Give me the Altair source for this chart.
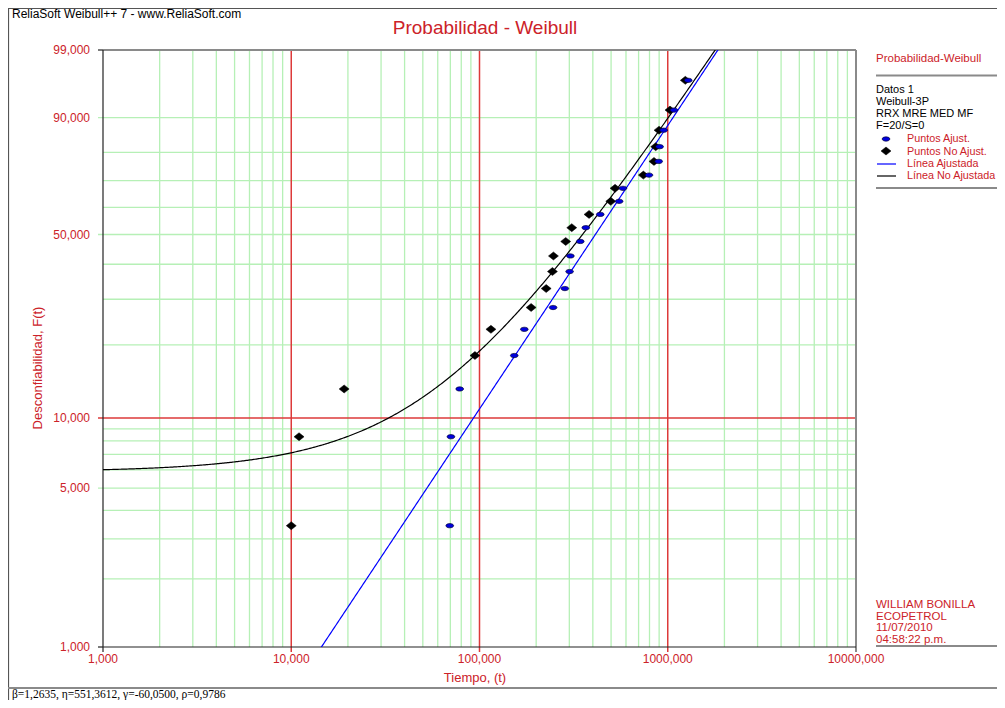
import math
import numpy as np
import pandas as pd
import altair as alt

# ---------------- data ----------------
F_PCT = [3.43, 8.33, 13.24, 18.14, 23.04, 27.94, 32.84, 37.75, 42.65, 47.55,
         52.45, 57.35, 62.25, 67.16, 72.06, 76.96, 81.86, 86.76, 91.67, 96.57]
T_RAW = [10.0, 11.0, 19.1, 94.6, 115.0, 188.0, 226.0, 244.0, 247.0, 287.0,
         309.0, 382.0, 498.0, 525.0, 742.0, 845.0, 863.0, 899.0, 1028.0, 1240.0]
T_ADJ = [69.5, 70.5, 78.5, 153.0, 173.0, 246.0, 284.0, 301.0, 304.0, 343.0,
         367.0, 438.0, 552.0, 578.0, 795.0, 895.0, 905.0, 951.0, 1079.0, 1285.0]
BETA, ETA, GAMMA = 1.2635, 551.3612, -60.05

X_LABEL_VALUES = [1, 10, 100, 1000, 10000]
Y_LABEL_PCTS = [1, 5, 10, 50, 90, 99]
X_RED = [10, 100, 1000]
X_GREEN = [m * 10 ** k for k in range(4) for m in range(2, 10)]
Y_GREEN = [2, 3, 4, 6, 7, 8, 9, 20, 30, 40, 60, 70, 80]
Y_GREEN_TICKED = [5, 50, 90]
Y_RED = [10]
Y_BLACK_TICKS = [1, 99]

HEADER = "ReliaSoft Weibull++ 7 - www.ReliaSoft.com"
TITLE = "Probabilidad - Weibull"
X_TITLE = "Tiempo, (t)"
Y_TITLE = "Desconfiabilidad, F(t)"
LEGEND_TITLE = "Probabilidad-Weibull"
LEGEND_INFO = ["Datos 1", "Weibull-3P", "RRX MRE MED MF", "F=20/S=0"]
LEGEND_ITEMS = ["Puntos Ajust.", "Puntos No Ajust.", "Línea Ajustada", "Línea No Ajustada"]
SIGN = ["WILLIAM BONILLA", "ECOPETROL", "11/07/2010", "04:58:22 p.m."]
PARAMS_TEXT = "β=1,2635, η=551,3612, γ=-60,0500, ρ=0,9786"

# ---------------- styling ----------------
RED = "#cc2229"
GRID_RED = "#dd3a3a"
GREEN = "#b6f0b6"
GRAY = "#8a8a8a"
SANS = "Liberation Sans"
SERIF = "Liberation Serif"
DIAMOND = "M-1,0L0,-0.8L1,0L0,0.8Z"
ELLIPSE = "M-1,0A1,0.55,0,1,0,1,0A1,0.55,0,1,0,-1,0Z"


def wb(p):
    return math.log(-math.log(1 - p / 100.0))


W_LO, W_HI = wb(1), wb(99)
W, H = 753, 597
OX, OY = 103, 50
PAGE_R, PAGE_B = 997, 700          # right / bottom edge of the drawing on the page
XS = alt.Scale(type="log", domain=[1, 10000], nice=False)
YS = alt.Scale(domain=[W_LO, W_HI], nice=False, zero=False)
WEXPR = "log(-log(1 - datum.p / 100))"
ONE = pd.DataFrame({"k": [0]})


def txt(s, X, Y, size=12, color=RED, align="left", font=SANS, angle=0):
    return alt.Chart(ONE).mark_text(
        text=s, fontSize=size, color=color, align=align, baseline="middle",
        font=font, angle=angle
    ).encode(x=alt.value(X - OX), y=alt.value(Y - OY))


def hline(X1, X2, Y, color=GRAY, width=2.0):
    return alt.Chart(ONE).mark_rule(color=color, strokeWidth=width).encode(
        x=alt.value(X1 - OX), x2=alt.value(X2 - OX), y=alt.value(Y - OY))


def vline(X, Y1, Y2, color=GRAY, width=2.0):
    return alt.Chart(ONE).mark_rule(color=color, strokeWidth=width).encode(
        x=alt.value(X - OX), y=alt.value(Y1 - OY), y2=alt.value(Y2 - OY))


def xgrid(vals, color, width, y2):
    return alt.Chart(pd.DataFrame({"v": vals})).mark_rule(color=color, strokeWidth=width).encode(
        x=alt.X("v:Q", scale=XS, axis=None), y=alt.value(0), y2=alt.value(y2))


def ygrid(vals, color, width, x1):
    return alt.Chart(pd.DataFrame({"p": vals})).transform_calculate(w=WEXPR).mark_rule(
        color=color, strokeWidth=width).encode(
        y=alt.Y("w:Q", scale=YS, axis=None), x=alt.value(x1), x2=alt.value(W))


# fitted model curves from the displayed parameters
t_line = np.geomspace(1, 2000, 500)
black_df = pd.DataFrame({"t": t_line, "w": BETA * np.log((t_line - GAMMA) / ETA)})
black_df = black_df[black_df.w <= W_HI + 0.05]
x_line = np.geomspace(10, 2000, 500)
blue_df = pd.DataFrame({"t": x_line, "w": BETA * np.log(x_line / ETA)})
blue_df = blue_df[(blue_df.w <= W_HI + 0.05) & (blue_df.w >= W_LO - 0.05)]

pts = pd.DataFrame({"p": F_PCT, "traw": T_RAW, "tadj": T_ADJ})

layers = [
    xgrid(X_GREEN, GREEN, 1.3, H),
    ygrid(Y_GREEN, GREEN, 1.3, 0),
    ygrid(Y_GREEN_TICKED, GREEN, 1.3, -5),
    xgrid(X_RED, GRID_RED, 1.5, H + 5),
    ygrid(Y_RED, GRID_RED, 1.5, -5),
    alt.Chart(pd.DataFrame({"p": Y_BLACK_TICKS})).transform_calculate(w=WEXPR).mark_rule(
        color="#222", strokeWidth=1.2).encode(
        y=alt.Y("w:Q", scale=YS, axis=None), x=alt.value(-5), x2=alt.value(0)),
    # plot frame
    hline(OX, OX + W, OY, GRAY, 2),
    vline(OX + W, OY, OY + H + 5, GRAY, 2),
    vline(OX, OY, OY + H + 5, "#222", 1.2),
    hline(OX, OX + W, OY + H, "#222", 1.2),
    # axis tick labels (through the scales)
    alt.Chart(pd.DataFrame({"v": X_LABEL_VALUES})).transform_calculate(
        lab="replace(format(datum.v, '.3f'), '.', ',')").mark_text(
        color=RED, fontSize=12, font=SANS, align="center", baseline="middle").encode(
        x=alt.X("v:Q", scale=XS, axis=None), y=alt.value(H + 11.5), text="lab:N"),
    alt.Chart(pd.DataFrame({"p": Y_LABEL_PCTS})).transform_calculate(
        w=WEXPR, lab="replace(format(datum.p, '.3f'), '.', ',')").mark_text(
        color=RED, fontSize=12, font=SANS, align="right", baseline="middle").encode(
        y=alt.Y("w:Q", scale=YS, axis=None), x=alt.value(-13), text="lab:N"),
    # curves
    alt.Chart(black_df).mark_line(color="#000000", strokeWidth=1.2, clip=True).encode(
        x=alt.X("t:Q", scale=XS, axis=None), y=alt.Y("w:Q", scale=YS, axis=None)),
    alt.Chart(blue_df).mark_line(color="#0000ff", strokeWidth=1.2, clip=True).encode(
        x=alt.X("t:Q", scale=XS, axis=None), y=alt.Y("w:Q", scale=YS, axis=None)),
    # unadjusted points
    alt.Chart(pts).transform_calculate(w=WEXPR).mark_point(
        shape=DIAMOND, filled=True, fill="#000000", stroke="#000000", strokeWidth=0.5,
        size=100, opacity=1).encode(
        x=alt.X("traw:Q", scale=XS, axis=None), y=alt.Y("w:Q", scale=YS, axis=None)),
    # adjusted points
    alt.Chart(pts).transform_calculate(w=WEXPR).mark_point(
        shape=ELLIPSE, filled=True, fill="#0000dd", stroke="#000033", strokeWidth=0.7,
        size=60, opacity=1).encode(
        x=alt.X("tadj:Q", scale=XS, axis=None), y=alt.Y("w:Q", scale=YS, axis=None)),
    # outer frame and separators
    vline(8.5, 8, PAGE_B, "#555", 1.2),
    hline(8, PAGE_R, 8.5, "#555", 1.2),
    hline(8, PAGE_R, 688, GRAY, 2),
    hline(876, PAGE_R, 75.5, GRAY, 2),
    hline(876, PAGE_R, 188, GRAY, 2),
    hline(876, PAGE_R, 646, GRAY, 2),
    # texts
    txt(HEADER, 12, 14, 12, "#000000"),
    txt(TITLE, 485, 28, 19, RED, "center"),
    txt(Y_TITLE, 38, 368, 13, RED, "center", angle=270),
    txt(X_TITLE, 475, 678, 13, RED, "center"),
    txt(LEGEND_TITLE, 876, 59, 11.5, RED),
    txt(PARAMS_TEXT, 12, 694.5, 11.5, "#000000", font=SERIF),
]

for i, s in enumerate(LEGEND_INFO):
    layers.append(txt(s, 876, 89.5 + 12.2 * i, 11, "#000000"))
for i, s in enumerate(LEGEND_ITEMS):
    layers.append(txt(s, 907, 139.3 + 12.2 * i, 10.8, RED))
for i, s in enumerate(SIGN):
    layers.append(txt(s, 876, 605 + 11.5 * i, 11.5, RED))

# legend symbols
layers += [
    alt.Chart(ONE).mark_point(shape=ELLIPSE, filled=True, fill="#0000dd", stroke="#000033",
                              strokeWidth=0.7, size=60, opacity=1).encode(
        x=alt.value(886 - OX), y=alt.value(139 - OY)),
    alt.Chart(ONE).mark_point(shape=DIAMOND, filled=True, fill="#000000", stroke="#000000",
                              strokeWidth=0.5, size=100, opacity=1).encode(
        x=alt.value(886 - OX), y=alt.value(151 - OY)),
    hline(877, 896, 164, "#0000ff", 1.2),
    hline(877, 896, 176, "#000000", 1.2),
]

chart = alt.layer(*layers).properties(
    width=W, height=H,
    autosize=alt.AutoSizeParams(type="none"),
    padding={"left": OX - 8, "top": OY - 8, "right": PAGE_R - OX - W, "bottom": PAGE_B - OY - H},
).configure_view(stroke=None)

chart.save("out.html", embed_options={"renderer": "svg", "actions": False})
